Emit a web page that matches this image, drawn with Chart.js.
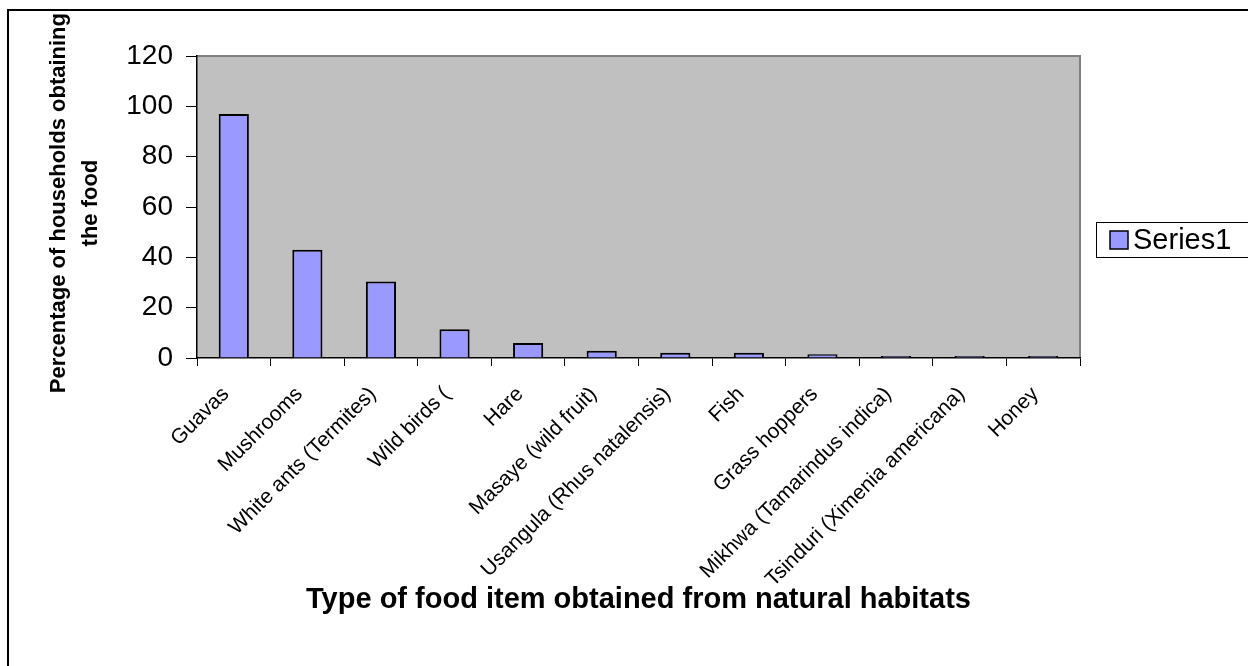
<!DOCTYPE html>
<html>
<head>
<meta charset="utf-8">
<script src="https://cdn.jsdelivr.net/npm/chart.js@4"></script>
<style>
  html, body { margin: 0; padding: 0; background: #fff; }
  #wrap { width: 1248px; height: 666px; position: relative; }
</style>
</head>
<body>
<div id="wrap"><canvas id="chart" width="1248" height="666"></canvas></div>
<script>
const categories = [
    'Guavas', 'Mushrooms', 'White ants (Termites)', 'Wild birds (', 'Hare',
    'Masaye (wild fruit)', 'Usangula (Rhus natalensis)', 'Fish', 'Grass hoppers',
    'Mikhwa (Tamarindus indica)', 'Tsinduri (Ximenia americana)', 'Honey'
];
const series1 = [97, 43, 30.4, 11.4, 6, 2.9, 2.1, 2.1, 1.5, 0.8, 0.8, 0.8];
const yTicks = [0, 20, 40, 60, 80, 100, 120];
const yTitle = ['Percentage of households obtaining', 'the food'];

const FONT = "'Liberation Sans', Arial, sans-serif";

// gray plot area, outer frame, y title and the boxed legend
const excelLook = {
    id: 'excelLook',
    beforeDraw(chart) {
        const { ctx, chartArea: a } = chart;
        ctx.save();
        ctx.fillStyle = '#fff';
        ctx.fillRect(0, 0, chart.width, chart.height);
        ctx.fillStyle = '#C0C0C0';
        ctx.fillRect(a.left, a.top, a.right - a.left, a.bottom - a.top);
        ctx.strokeStyle = '#808080';
        ctx.lineWidth = 2;
        ctx.beginPath();
        ctx.moveTo(a.left, a.top);
        ctx.lineTo(a.right, a.top);
        ctx.lineTo(a.right, a.bottom);
        ctx.stroke();
        // outer frame
        ctx.strokeStyle = '#000';
        ctx.lineWidth = 2;
        ctx.beginPath();
        ctx.moveTo(8, chart.height);
        ctx.lineTo(8, 10);
        ctx.lineTo(chart.width, 10);
        ctx.stroke();
        ctx.restore();
    },
    afterDraw(chart) {
        const { ctx } = chart;
        const ds = chart.data.datasets[0];
        ctx.save();
        // y axis title, starts just under the frame
        ctx.fillStyle = '#000';
        ctx.font = 'bold 22px ' + FONT;
        ctx.textAlign = 'center';
        ctx.textBaseline = 'middle';
        const cy = 13 + ctx.measureText(yTitle[0]).width / 2;
        [59, 91].forEach((x, i) => {
            ctx.save();
            ctx.translate(x, cy);
            ctx.rotate(-Math.PI / 2);
            ctx.fillText(yTitle[i], 0, 0);
            ctx.restore();
        });
        // legend
        ctx.strokeStyle = '#000';
        ctx.lineWidth = 1;
        ctx.strokeRect(1096.5, 222.5, 160, 35);
        ctx.fillStyle = ds.backgroundColor;
        ctx.fillRect(1110, 231, 18, 18);
        ctx.lineWidth = 1.5;
        ctx.strokeRect(1110, 231, 18, 18);
        ctx.fillStyle = '#000';
        ctx.font = '29px ' + FONT;
        ctx.textAlign = 'left';
        ctx.fillText(ds.label, 1133, 241);
        ctx.restore();
    }
};

new Chart(document.getElementById('chart'), {
    type: 'bar',
    data: {
        labels: categories,
        datasets: [{
            label: 'Series1',
            data: series1,
            backgroundColor: '#9999FF',
            borderColor: '#000',
            borderWidth: 2,
            barPercentage: 0.41,
            categoryPercentage: 1
        }]
    },
    options: {
        responsive: false,
        animation: false,
        layout: { padding: { top: 56, right: 168, left: 20, bottom: 49 } },
        plugins: { legend: { display: false }, tooltip: { enabled: false } },
        scales: {
            x: {
                afterFit: (s) => { s.height = 666 - 358 - 49; },
                border: { color: '#000', width: 1.5 },
                grid: { offset: true, drawOnChartArea: false, color: '#000', tickLength: 8 },
                ticks: {
                    color: '#000',
                    font: { family: FONT, size: 21 },
                    minRotation: 45,
                    maxRotation: 45,
                    autoSkip: false,
                    padding: 16,
                    labelOffset: -8
                },
                title: {
                    display: true,
                    text: 'Type of food item obtained from natural habitats',
                    color: '#000',
                    font: { family: FONT, size: 29, weight: 'bold' },
                    padding: { top: 0, bottom: 0 }
                }
            },
            y: {
                min: 0,
                max: 120,
                afterFit: (s) => { s.width = 197 - 20; },
                afterBuildTicks: (s) => { s.ticks = yTicks.map(v => ({ value: v })); },
                border: { color: '#000', width: 1.5 },
                grid: { drawOnChartArea: false, color: '#000', tickLength: 11 },
                ticks: {
                    color: '#000',
                    font: { family: FONT, size: 28 },
                    padding: 13
                }
            }
        }
    },
    plugins: [excelLook]
});
</script>
</body>
</html>
